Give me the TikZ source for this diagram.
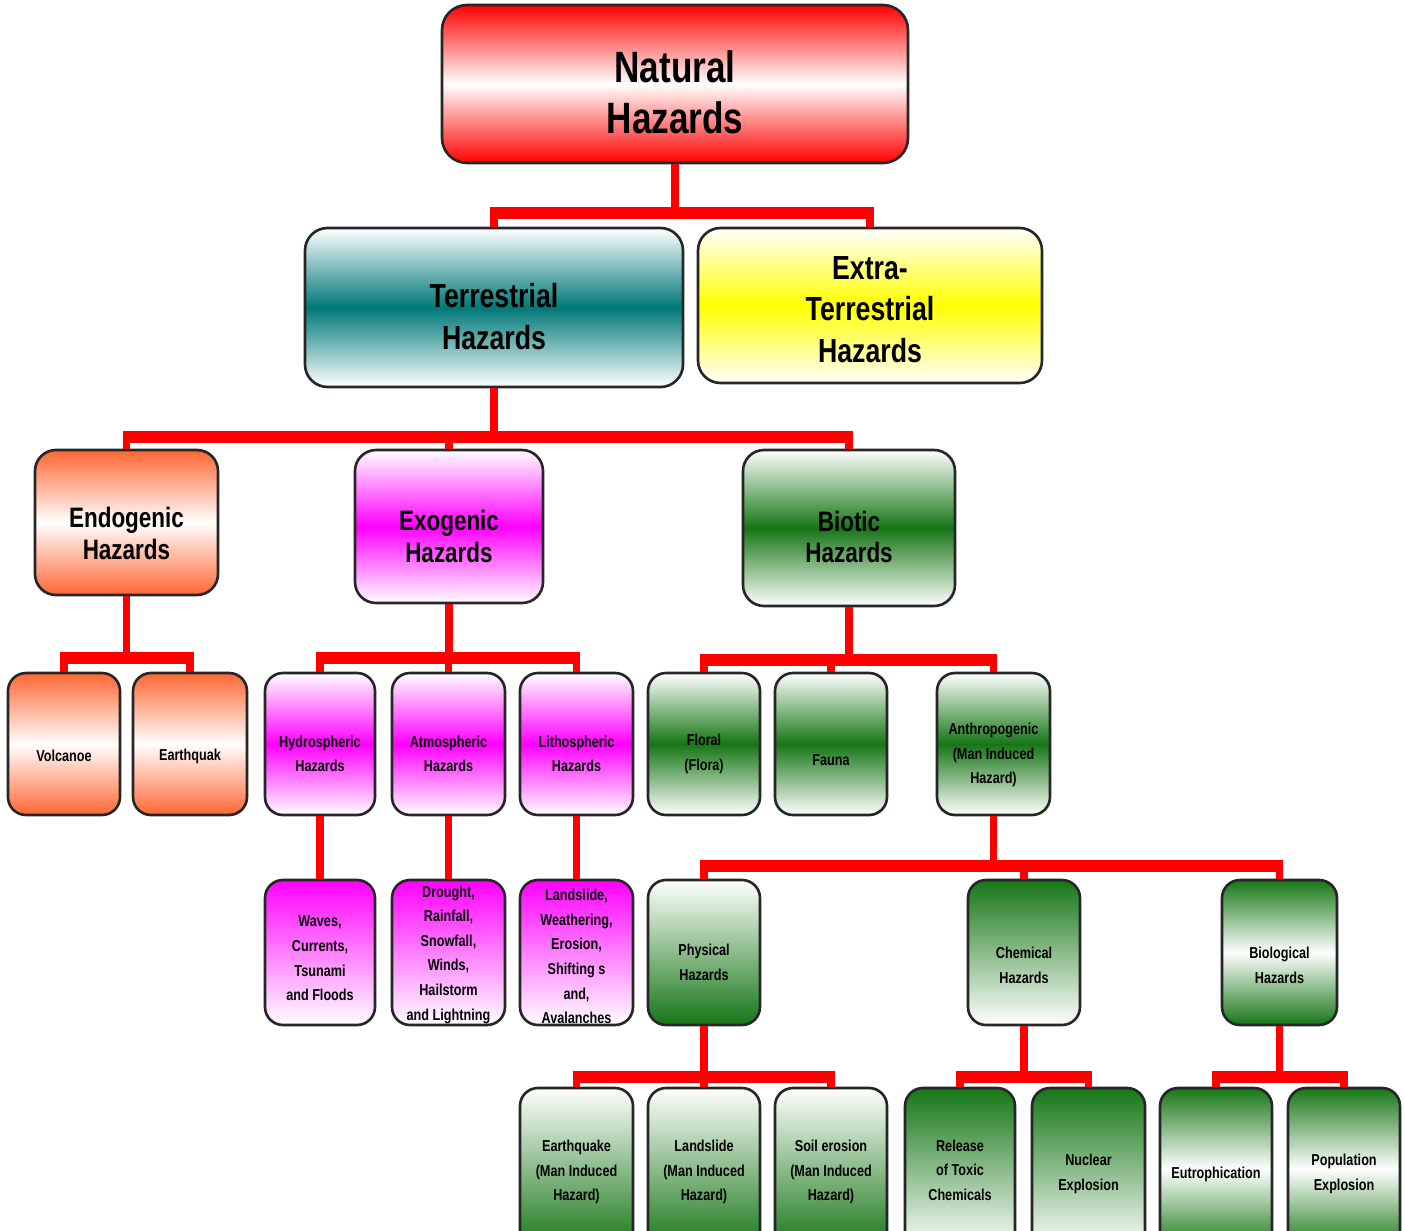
\documentclass[tikz,border=0pt]{standalone}
\usepackage{fontspec}
\setmainfont{Liberation Sans}[FakeStretch=0.8]
\definecolor{orgc}{RGB}{255,102,51}
\definecolor{grn}{RGB}{22,118,22}
\definecolor{tealc}{RGB}{0,120,120}
\newcommand\mkbox[9]{%
  \pgfmathsetmacro\cx{(#2+#4)/2}%
  \pgfmathsetmacro\cy{(#3+#5)/2}%
  \pgfmathsetmacro\bw{(#4-#2)*0.02}%
  \pgfmathsetmacro\bh{(#5-#3)*0.02}%
  \node[box,#6,minimum width=\bw cm,minimum height=\bh cm] (#1) at (\cx,\cy) {};
  \node[txt,#7] (#1t) at ([yshift=-#9*0.02cm]#1.center) {#8};}
\begin{document}
\begin{tikzpicture}[x=0.02cm,y=-0.02cm,
  box/.style={draw=black!85,line width=1.5pt,inner sep=0pt},
  txt/.style={align=center,inner sep=0pt,text=black},
  bigf/.style={font=\fontsize{25}{29}\selectfont\bfseries},
  midf/.style={font=\fontsize{19}{23.5}\selectfont\bfseries},
  levf/.style={font=\fontsize{16}{18}\selectfont\bfseries},
  smf/.style={font=\fontsize{9}{14}\selectfont\bfseries},
  big/.style={rounded corners=0.5cm},
  mid/.style={rounded corners=0.45cm},
  lev/.style={rounded corners=0.42cm},
  small/.style={rounded corners=0.36cm},
  redband/.style={top color=red,bottom color=red,middle color=white},
  tealband/.style={top color=white,bottom color=white,middle color=tealc},
  yelband/.style={top color=white,bottom color=white,middle color=yellow},
  orgband/.style={top color=orgc,bottom color=orgc,middle color=white},
  magband/.style={top color=white,bottom color=white,middle color=magenta},
  grnband/.style={top color=white,bottom color=white,middle color=grn},
  magdown/.style={top color=magenta,bottom color=white},
  grnup/.style={top color=white,bottom color=grn},
  grndown/.style={top color=grn,bottom color=white},
  grnends/.style={top color=grn,bottom color=grn,middle color=white},
  conn/.style={draw=red,line width=0.15cm},
  barst/.style={draw=red,line width=0.24cm}
]
\useasboundingbox (0,0) rectangle (1405,1230);
\clip (0,0) rectangle (1405,1230);
% level 1-2
\mkbox{nat}{442}{5}{908}{163}{big,redband}{bigf}{Natural\\Hazards}{8}
\mkbox{ter}{305}{228}{683}{387}{mid,tealband}{midf}{Terrestrial\\Hazards}{9}
\mkbox{ext}{698}{228}{1042}{383}{mid,yelband}{midf}{Extra-\\Terrestrial\\Hazards}{4}
% level 3
\mkbox{endo}{35}{450}{218}{595}{lev,orgband}{levf}{Endogenic\\Hazards}{11}
\mkbox{exo}{355}{450}{543}{603}{lev,magband}{levf}{Exogenic\\Hazards}{10}
\mkbox{bio}{743}{450}{955}{606}{lev,grnband}{levf}{Biotic\\Hazards}{9}
% level 4
\mkbox{volc}{8}{673}{120}{815}{small,orgband}{smf}{Volcanoe}{12}
\mkbox{eqk}{133}{673}{247}{815}{small,orgband}{smf}{Earthquak}{12}
\mkbox{hyd}{265}{673}{375}{815}{small,magband}{smf}{Hydrospheric\\Hazards}{10}
\mkbox{atm}{392}{673}{505}{815}{small,magband}{smf}{Atmospheric\\Hazards}{10}
\mkbox{lit}{520}{673}{633}{815}{small,magband}{smf}{Lithospheric\\Hazards}{10}
\mkbox{flo}{648}{673}{760}{815}{small,grnband}{smf}{Floral\\(Flora)}{10}
\mkbox{fau}{775}{673}{887}{815}{small,grnband}{smf}{Fauna}{16}
\mkbox{ant}{937}{673}{1050}{815}{small,grnband}{smf}{Anthropogenic\\(Man Induced\\Hazard)}{11}
% level 5
\mkbox{wav}{265}{880}{375}{1025}{small,magdown}{smf}{Waves,\\Currents,\\Tsunami\\and Floods}{6}
\mkbox{dro}{392}{880}{505}{1025}{small,magdown}{smf}{Drought,\\Rainfall,\\Snowfall,\\Winds,\\Hailstorm\\and Lightning}{2}
\mkbox{lsd}{520}{880}{633}{1025}{small,magdown}{smf}{Landslide,\\Weathering,\\Erosion,\\Shifting s\\and,\\Avalanches}{4}
\mkbox{phy}{648}{880}{760}{1025}{small,grnup}{smf}{Physical\\Hazards}{10}
\mkbox{che}{968}{880}{1080}{1025}{small,grndown}{smf}{Chemical\\Hazards}{13}
\mkbox{bgl}{1222}{880}{1337}{1025}{small,grnends}{smf}{Biological\\Hazards}{13}
% level 6
\mkbox{eqm}{520}{1088}{633}{1250}{small,grnup}{smf}{Earthquake\\(Man Induced\\Hazard)}{3}
\mkbox{lsm}{648}{1088}{760}{1250}{small,grnup}{smf}{Landslide\\(Man Induced\\Hazard)}{3}
\mkbox{som}{775}{1088}{887}{1250}{small,grnup}{smf}{Soil erosion\\(Man Induced\\Hazard)}{3}
\mkbox{rel}{905}{1088}{1015}{1250}{small,grndown}{smf}{Release\\of Toxic\\Chemicals}{1}
\mkbox{nuc}{1032}{1088}{1145}{1250}{small,grndown}{smf}{Nuclear\\Explosion}{5}
\mkbox{eut}{1160}{1088}{1272}{1250}{small,grnends}{smf}{Eutrophication}{5}
\mkbox{pop}{1288}{1088}{1400}{1250}{small,grnends}{smf}{Population\\Explosion}{5}
% connectors
\draw[conn] (nat.south) -- (nat.south |- 0,213);
\draw[barst] (ter.north |- 0,213) -- (ext.north |- 0,213);
\foreach \c in {ter,ext} \draw[conn] (\c.north |- 0,207) -- (\c.north);
\draw[conn] (ter.south) -- (ter.south |- 0,437);
\draw[barst] (endo.north |- 0,437) -- (bio.north |- 0,437);
\foreach \c in {endo,exo,bio} \draw[conn] (\c.north |- 0,431) -- (\c.north);
\draw[conn] (endo.south) -- (endo.south |- 0,658);
\draw[barst] (volc.north |- 0,658) -- (eqk.north |- 0,658);
\foreach \c in {volc,eqk} \draw[conn] (\c.north |- 0,652) -- (\c.north);
\draw[conn] (exo.south) -- (exo.south |- 0,658);
\draw[barst] (hyd.north |- 0,658) -- (lit.north |- 0,658);
\foreach \c in {hyd,atm,lit} \draw[conn] (\c.north |- 0,652) -- (\c.north);
\draw[conn] (bio.south) -- (bio.south |- 0,660);
\draw[barst] (flo.north |- 0,660) -- (ant.north |- 0,660);
\foreach \c in {flo,fau,ant} \draw[conn] (\c.north |- 0,654) -- (\c.north);
\draw[conn] (hyd.south) -- (wav.north);
\draw[conn] (atm.south) -- (dro.north);
\draw[conn] (lit.south) -- (lsd.north);
\draw[conn] (ant.south) -- (ant.south |- 0,866);
\draw[barst] (phy.north |- 0,866) -- (bgl.north |- 0,866);
\foreach \c in {phy,che,bgl} \draw[conn] (\c.north |- 0,860) -- (\c.north);
\draw[conn] (phy.south) -- (phy.south |- 0,1077);
\draw[barst] (eqm.north |- 0,1077) -- (som.north |- 0,1077);
\foreach \c in {eqm,lsm,som} \draw[conn] (\c.north |- 0,1071) -- (\c.north);
\draw[conn] (che.south) -- (che.south |- 0,1077);
\draw[barst] (rel.north |- 0,1077) -- (nuc.north |- 0,1077);
\foreach \c in {rel,nuc} \draw[conn] (\c.north |- 0,1071) -- (\c.north);
\draw[conn] (bgl.south) -- (bgl.south |- 0,1077);
\draw[barst] (eut.north |- 0,1077) -- (pop.north |- 0,1077);
\foreach \c in {eut,pop} \draw[conn] (\c.north |- 0,1071) -- (\c.north);
\end{tikzpicture}
\end{document}
